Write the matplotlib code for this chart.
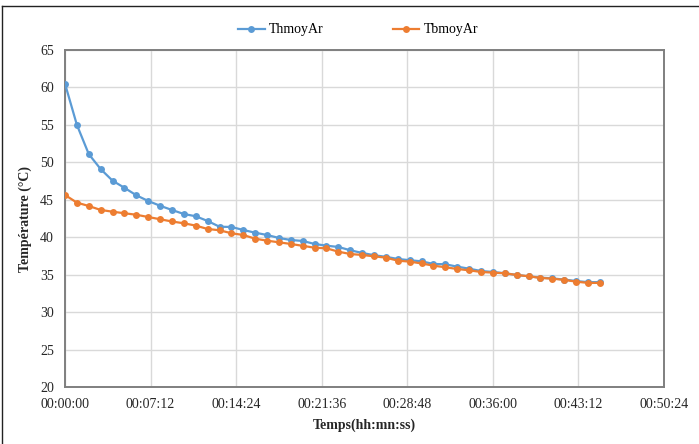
import matplotlib
matplotlib.use("Agg")
import matplotlib.pyplot as plt
from matplotlib.ticker import FuncFormatter, MultipleLocator
from matplotlib.lines import Line2D

# Sampling time in minutes (one reading per minute)
minutes = list(range(46))

thmoy_ar = [60.5, 55.0, 51.1, 49.1, 47.55, 46.6, 45.6, 44.84, 44.2, 43.64,
            43.1, 42.8, 42.17, 41.4, 41.37, 40.97, 40.6, 40.3, 39.9, 39.63,
            39.5, 39.1, 38.87, 38.7, 38.26, 37.9, 37.6, 37.38, 37.1, 36.93,
            36.78, 36.43, 36.39, 36.07, 35.8, 35.49, 35.36, 35.19, 34.96, 34.79,
            34.6, 34.5, 34.35, 34.15, 34.0, 34.0]

tbmoy_ar = [45.64, 44.62, 44.17, 43.64, 43.41, 43.2, 43.0, 42.7, 42.4, 42.1,
            41.86, 41.55, 41.1, 40.93, 40.53, 40.3, 39.8, 39.54, 39.32, 39.1,
            38.85, 38.6, 38.52, 38.07, 37.76, 37.63, 37.45, 37.27, 36.87, 36.74,
            36.5, 36.2, 35.99, 35.76, 35.58, 35.36, 35.27, 35.19, 34.96, 34.79,
            34.56, 34.47, 34.3, 34.07, 33.9, 33.9]

series_names = ["ThmoyAr", "TbmoyAr"]
x_label = "Temps(hh:mn:ss)"
y_label = "Température (°C)"

BLUE = "#5B9BD5"
ORANGE = "#ED7D31"
FONT = "Liberation Serif"

W, H = 699, 444
fig = plt.figure(figsize=(W / 100, H / 100), dpi=100)
fig.patch.set_facecolor("white")

ax = fig.add_axes([65 / W, 1 - 387 / H, (664 - 65) / W, (387 - 50) / H])

seconds = [m * 60 for m in minutes]
ax.plot(seconds, thmoy_ar, color=BLUE, lw=1.6, marker="o", ms=5.0,
        markeredgewidth=0, zorder=3)
ax.plot(seconds, tbmoy_ar, color=ORANGE, lw=1.6, marker="o", ms=5.0,
        markeredgewidth=0, zorder=4)

ax.set_xlim(0, 3024)
ax.set_ylim(20, 65)
ax.xaxis.set_major_locator(MultipleLocator(432))
ax.yaxis.set_major_locator(MultipleLocator(5))


def hms(v, pos):
    s = int(round(v))
    return f"{s // 3600:02d}:{(s % 3600) // 60:02d}:{s % 60:02d}"


ax.xaxis.set_major_formatter(FuncFormatter(hms))
ax.grid(True, color="#d9d9d9", lw=1.0, zorder=0)
ax.set_axisbelow(True)
for sp in ax.spines.values():
    sp.set_color("#7f7f7f")
    sp.set_linewidth(1.4)
ax.tick_params(length=0, pad=8, labelsize=10, labelcolor="#262626")
for lab in ax.get_xticklabels() + ax.get_yticklabels():
    lab.set_fontfamily(FONT)

ax.set_xlabel(x_label, fontfamily=FONT, fontsize=10, fontweight="bold",
              labelpad=5, color="#262626")
ax.set_ylabel(y_label, fontfamily=FONT, fontsize=10, fontweight="bold",
              labelpad=6, color="#262626")

handles = [Line2D([], [], color=BLUE, lw=1.6, marker="o", ms=5.0, markeredgewidth=0),
           Line2D([], [], color=ORANGE, lw=1.6, marker="o", ms=5.0, markeredgewidth=0)]
fig.legend(handles, series_names, loc="center", bbox_to_anchor=(358 / W, 1 - 30 / H),
           ncol=2, frameon=False, prop={"family": FONT, "size": 10},
           columnspacing=5.0, handlelength=1.9, handletextpad=0.3)

# outer chart frame
fig.add_artist(Line2D([2 / W, 2 / W], [0, 1 - 6 / H], color="#222222", lw=1.0,
                      transform=fig.transFigure))
fig.add_artist(Line2D([2 / W, 1], [1 - 6 / H, 1 - 6 / H], color="#222222", lw=1.0,
                      transform=fig.transFigure))

fig.savefig("out.png", dpi=100)
